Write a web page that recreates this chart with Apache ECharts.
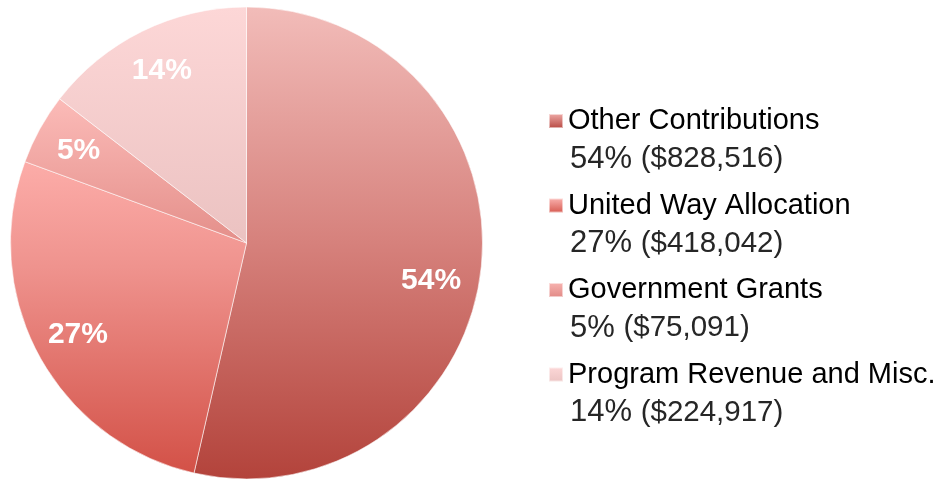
<!DOCTYPE html>
<html>
<head>
<meta charset="utf-8">
<script src="https://cdn.jsdelivr.net/npm/echarts@6/dist/echarts.min.js"></script>
<style>
  html, body { margin: 0; padding: 0; background: #fff; }
  #chart { width: 936px; height: 481px; }
</style>
</head>
<body>
<div id="chart"></div>
<script>
// 分类名称
var categories = ['Other Contributions', 'United Way Allocation', 'Government Grants', 'Program Revenue and Misc.']
// 金额
var amounts = [828516, 418042, 75091, 224917]
// 图上及图例显示的百分比
var pctLabels = ['54%', '27%', '5%', '14%']
// 图例中显示的金额文本
var amountLabels = ['($828,516)', '($418,042)', '($75,091)', '($224,917)']

// 每个扇区的渐变色 (整个饼图从上到下)
var sliceStops = [
  [[0, '#f2bcb9'], [0.5, '#d6817c'], [1, '#b3433b']],
  [[0, '#ffc4c0'], [0.35, '#fbaaa6'], [0.55, '#ef938e'], [1, '#d24f45']],
  [[0, '#ffc6c3'], [0.2, '#fbbab7'], [0.5, '#e48f8a'], [1, '#c96a64']],
  [[0, '#fdd7d7'], [0.5, '#ebc2c1'], [1, '#dcaaa8']]
]
// 图例图标的渐变色
var iconStops = [
  [[0, '#f1aeab'], [1, '#b5453e']],
  [[0, '#fbb5b2'], [1, '#d5564c']],
  [[0, '#f8b5b2'], [1, '#e08884']],
  [[0, '#fdd8d8'], [1, '#ebc3c2']]
]

var R = 236
var cx = 246.5
var cy = 243

function stopsToColor (stops) {
  var list = []
  for (let i = 0; i < stops.length; i++) {
    list.push({ offset: stops[i][0], color: stops[i][1] })
  }
  return list
}

var pieData = []
var labelData = []
var legendData = []
for (let i = 0; i < categories.length; i++) {
  pieData.push({
    name: categories[i],
    value: amounts[i],
    itemStyle: {
      color: {
        type: 'linear', global: true,
        x: 0, y: cy - R, x2: 0, y2: cy + R,
        colorStops: stopsToColor(sliceStops[i])
      }
    }
  })
  var lbl = { name: categories[i], value: amounts[i] }
  // 54% 的标签略微下移
  if (i === 0) lbl.label = { offset: [-6, 16] }
  labelData.push(lbl)
  legendData.push({
    name: categories[i],
    itemStyle: {
      color: {
        type: 'linear', x: 0, y: 0, x2: 0, y2: 1,
        colorStops: stopsToColor(iconStops[i])
      }
    }
  })
}

var chart = echarts.init(document.getElementById('chart'), null, { renderer: 'canvas' })
chart.setOption({
  animation: false,
  legend: {
    orient: 'vertical',
    left: 548,
    top: 78,
    padding: 0,
    icon: 'rect',
    itemWidth: 14,
    itemHeight: 14,
    itemGap: -12,
    selectedMode: false,
    data: legendData,
    formatter: function (name) {
      var i = categories.indexOf(name)
      return '{gap| }\n{t|' + name + '}\n{p|' + pctLabels[i] + ' }{a|' + amountLabels[i] + '}'
    },
    textStyle: {
      rich: {
        gap: { fontSize: 10, lineHeight: 38 },
        t: { fontFamily: 'Liberation Sans', fontSize: 29, color: '#000', lineHeight: 38 },
        p: { fontFamily: 'Liberation Sans', fontSize: 31, color: '#262626', lineHeight: 38, padding: [0, 0, 0, 2] },
        a: { fontFamily: 'Liberation Sans', fontSize: 29.5, color: '#262626', lineHeight: 38 }
      }
    }
  },
  series: [
    {
      type: 'pie',
      center: [cx, cy],
      radius: [0, R],
      startAngle: 90,
      clockwise: true,
      silent: true,
      label: { show: false },
      labelLine: { show: false },
      itemStyle: { borderColor: 'rgba(255,255,255,0.55)', borderWidth: 1 },
      data: pieData
    },
    {
      // 仅用于放置百分比标签
      type: 'pie',
      center: [cx, cy],
      radius: [R * 0.6, R],
      startAngle: 90,
      clockwise: true,
      silent: true,
      itemStyle: { color: 'rgba(0,0,0,0)' },
      labelLine: { show: false },
      label: {
        show: true,
        position: 'inside',
        fontFamily: 'Liberation Sans',
        fontWeight: 'bold',
        fontSize: 30,
        color: '#fff',
        formatter: function (p) {
          return pctLabels[p.dataIndex]
        }
      },
      data: labelData
    }
  ]
})
</script>
</body>
</html>
